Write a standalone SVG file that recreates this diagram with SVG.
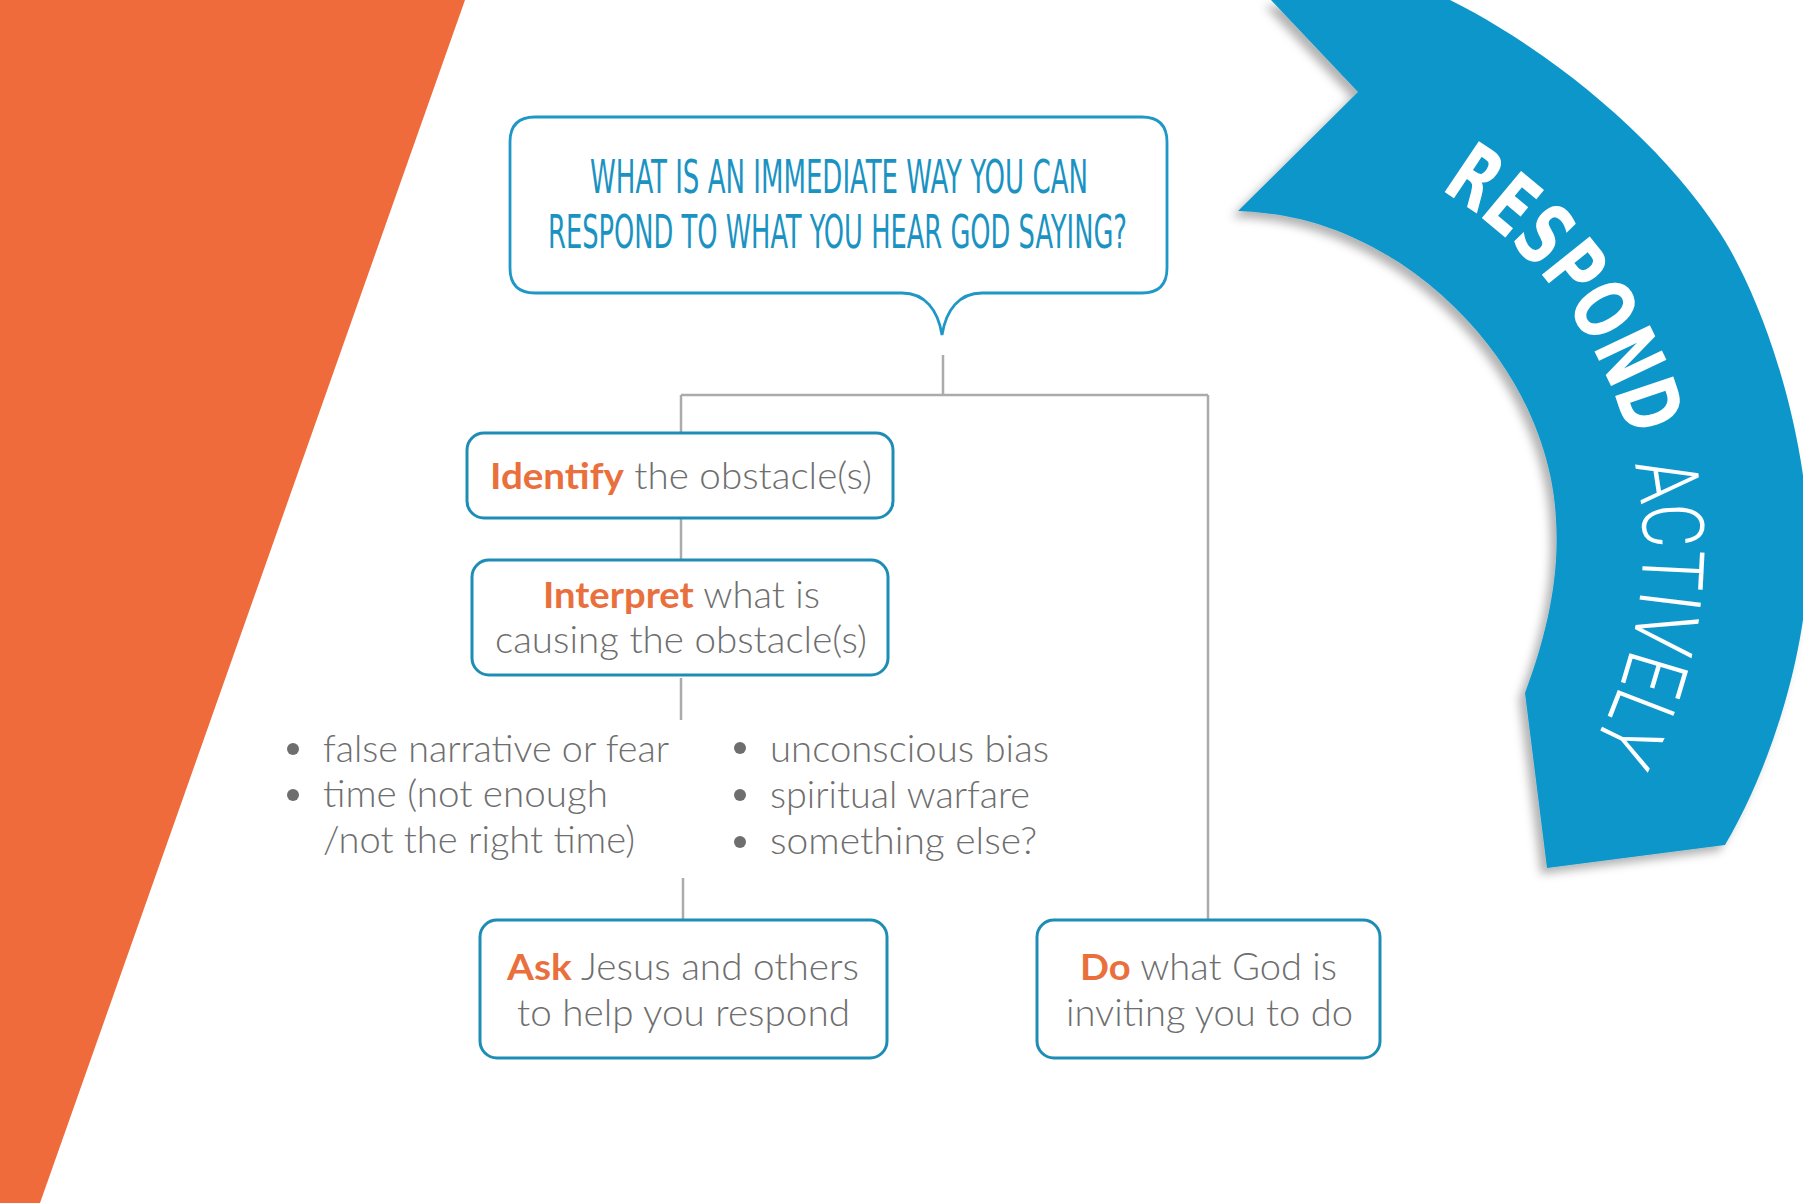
<svg xmlns="http://www.w3.org/2000/svg" width="1803" height="1203" viewBox="0 0 1803 1203">
  <style>
    .box { fill: #ffffff; stroke: #1E8DB6; stroke-width: 3; }
    .conn { stroke: #ABABAB; stroke-width: 2.5; fill: none; }
    .lbl { font-family: Lato, "Open Sans", "Liberation Sans", sans-serif; font-size: 37px; fill: #6E6E6E; font-weight: 300; }
    .em { fill: #E9703D; font-weight: 700; }
    .title { font-family: "Liberation Sans Narrow", "DejaVu Sans Condensed", "Liberation Sans", sans-serif; font-size: 46px; fill: #1B93C2; }
    .bul { fill: #6E6E6E; }
    .rib1 { font-family: "Liberation Sans Narrow", "DejaVu Sans Condensed", "Liberation Sans", sans-serif; font-size: 84px; font-weight: 700; fill: #ffffff; }
    .rib2 { font-family: Roboto, "Liberation Sans Narrow", "Liberation Sans", sans-serif; font-size: 86px; font-weight: 300; fill: #ffffff; }
  </style>
  <defs>
    <filter id="shadow" x="-10%" y="-10%" width="120%" height="120%">
      <feDropShadow dx="-6" dy="6" stdDeviation="5" flood-color="#000000" flood-opacity="0.3"/>
    </filter>
    <path id="ribArc" d="M 1402.8 170 A 416 416 0 0 1 1545.7 814.4"/>
  </defs>

  <rect x="0" y="0" width="1803" height="1203" fill="#ffffff"/>

  <g id="orange-band">
    <polygon points="0,0 465,0 40,1203 0,1203" fill="#EF6B3B"/>
  </g>

  <g id="ribbon">
    <path filter="url(#shadow)" fill="#0A96CA" d="M 1271 0 L 1450 0 C 1550 50 1660 140 1720 233 C 1760 295 1800 410 1808 520 C 1815 630 1775 760 1725 845 L 1547 868 L 1525 693 C 1545 640 1560 580 1556 520 C 1552 430 1500 330 1400 263 C 1340 225 1290 213 1238 211 L 1358 92 Z"/>
    <text class="rib1"><textPath href="#ribArc" startOffset="42" textLength="319" lengthAdjust="spacingAndGlyphs">RESPOND</textPath></text>
    <text class="rib2"><textPath href="#ribArc" startOffset="388" textLength="292" lengthAdjust="spacingAndGlyphs">ACTIVELY</textPath></text>
  </g>

  <g id="connectors">
    <line class="conn" x1="943" y1="355" x2="943" y2="395"/>
    <line class="conn" x1="681" y1="395" x2="1208" y2="395"/>
    <line class="conn" x1="681" y1="395" x2="681" y2="433"/>
    <line class="conn" x1="681" y1="518" x2="681" y2="560"/>
    <line class="conn" x1="681" y1="678" x2="681" y2="720"/>
    <line class="conn" x1="683" y1="878" x2="683" y2="920"/>
    <line class="conn" x1="1208" y1="395" x2="1208" y2="920"/>
  </g>

  <g id="question">
    <path fill="#ffffff" stroke="#1F97C7" stroke-width="2.8" d="M 535 117 H 1142 Q 1167 117 1167 142 V 268 Q 1167 293 1142 293 H 982 C 959 293 946 310 942 335 C 938 310 925 293 902 293 H 535 Q 510 293 510 268 V 142 Q 510 117 535 117 Z"/>
    <text class="title" x="590" y="193" textLength="498" lengthAdjust="spacingAndGlyphs">WHAT IS AN IMMEDIATE WAY YOU CAN</text>
    <text class="title" x="548" y="248" textLength="579" lengthAdjust="spacingAndGlyphs">RESPOND TO WHAT YOU HEAR GOD SAYING?</text>
  </g>

  <g id="identify">
    <rect class="box" x="467" y="433" width="426" height="85" rx="17"/>
    <text class="lbl" x="490" y="489" textLength="382" lengthAdjust="spacingAndGlyphs"><tspan class="em">Identify</tspan> the obstacle(s)</text>
  </g>

  <g id="interpret">
    <rect class="box" x="472" y="560" width="416" height="115" rx="17"/>
    <text class="lbl" x="543" y="608" textLength="277" lengthAdjust="spacingAndGlyphs"><tspan class="em">Interpret</tspan> what is</text>
    <text class="lbl" x="495" y="653" textLength="372" lengthAdjust="spacingAndGlyphs">causing the obstacle(s)</text>
  </g>

  <g id="obstacles">
    <circle class="bul" cx="293" cy="749" r="6"/>
    <circle class="bul" cx="293" cy="795" r="6"/>
    <text class="lbl" x="323" y="762" textLength="346" lengthAdjust="spacingAndGlyphs">false narrative or fear</text>
    <text class="lbl" x="323" y="807" textLength="285" lengthAdjust="spacingAndGlyphs">time (not enough</text>
    <text class="lbl" x="323" y="853" textLength="312" lengthAdjust="spacingAndGlyphs">/not the right time)</text>
    <circle class="bul" cx="740" cy="748" r="6"/>
    <circle class="bul" cx="740" cy="795" r="6"/>
    <circle class="bul" cx="740" cy="842" r="6"/>
    <text class="lbl" x="770" y="762" textLength="279" lengthAdjust="spacingAndGlyphs">unconscious bias</text>
    <text class="lbl" x="770" y="808" textLength="260" lengthAdjust="spacingAndGlyphs">spiritual warfare</text>
    <text class="lbl" x="770" y="854" textLength="267" lengthAdjust="spacingAndGlyphs">something else?</text>
  </g>

  <g id="ask">
    <rect class="box" x="480" y="920" width="407" height="138" rx="17"/>
    <text class="lbl" x="507" y="980" textLength="352" lengthAdjust="spacingAndGlyphs"><tspan class="em">Ask</tspan> Jesus and others</text>
    <text class="lbl" x="517" y="1026" textLength="333" lengthAdjust="spacingAndGlyphs">to help you respond</text>
  </g>

  <g id="do">
    <rect class="box" x="1037" y="920" width="343" height="138" rx="17"/>
    <text class="lbl" x="1080" y="980" textLength="257" lengthAdjust="spacingAndGlyphs"><tspan class="em">Do</tspan> what God is</text>
    <text class="lbl" x="1066" y="1026" textLength="287" lengthAdjust="spacingAndGlyphs">inviting you to do</text>
  </g>
</svg>
